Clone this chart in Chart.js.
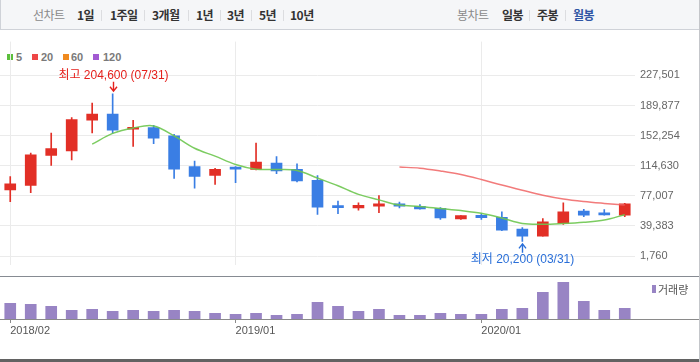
<!DOCTYPE html>
<html lang="ko">
<head>
<meta charset="utf-8">
<title>월봉 차트</title>
<script src="https://cdn.jsdelivr.net/npm/chart.js@4.4.1/dist/chart.umd.min.js"></script>
<style>
  html, body { margin: 0; padding: 0; background: #fff; }
  #wrap { position: relative; width: 700px; height: 362px; overflow: hidden; font-family: 'Noto Sans CJK KR', sans-serif; }
  .topbar { position: absolute; left: 0; top: 0; width: 698px; height: 29px; background: #f5f6f8; border: 1px solid #cfd2d8; border-top: none; }
  .tb { position: absolute; top: 7px; font-size: 12px; line-height: 16px; font-weight: bold; color: #333; letter-spacing: -0.5px; white-space: nowrap; }
  .tb.lbl { font-weight: normal; color: #8a8a8a; }
  .tb.on { color: #2f55a4; }
  .sep { position: absolute; top: 10px; width: 1px; height: 11px; background: #dcdde0; }
  .lg { position: absolute; top: 51px; font: bold 11px 'Liberation Sans', sans-serif; line-height: 12px; color: #7a7a7a; }
  .sq { position: absolute; top: 54px; width: 6px; height: 6px; }
  .line { position: absolute; left: 0; width: 700px; }
  .rborder { position: absolute; left: 699px; top: 0; width: 1px; height: 362px; background: #c4c6ca; }
  #candleBox { position: absolute; left: 0; top: 30px; width: 700px; height: 247px; }
  #volBox { position: absolute; left: 0; top: 277px; width: 700px; height: 85px; }
  .vlg { position: absolute; left: 658px; top: 282px; font-size: 11px; line-height: 14px; color: #555; }
  .vsq { position: absolute; left: 652px; top: 285px; width: 4px; height: 8px; background: #9884c4; }
</style>
</head>
<body>
<div id="wrap">
  <div class="topbar"></div>
  <span class="tb lbl" style="left:33px">선차트</span>
  <span class="tb" style="left:77px">1일</span><span class="sep" style="left:101px"></span>
  <span class="tb" style="left:110px">1주일</span><span class="sep" style="left:144px"></span>
  <span class="tb" style="left:152px">3개월</span><span class="sep" style="left:188px"></span>
  <span class="tb" style="left:196px">1년</span><span class="sep" style="left:220px"></span>
  <span class="tb" style="left:227px">3년</span><span class="sep" style="left:251px"></span>
  <span class="tb" style="left:259px">5년</span><span class="sep" style="left:283px"></span>
  <span class="tb" style="left:290px">10년</span>
  <span class="tb lbl" style="left:457px">봉차트</span>
  <span class="tb" style="left:502px">일봉</span><span class="sep" style="left:529px"></span>
  <span class="tb" style="left:537px">주봉</span><span class="sep" style="left:565px"></span>
  <span class="tb on" style="left:573px">월봉</span>

  <span class="sq" style="left:7px;background:#5cbf3c"></span><span class="lg" style="left:16px">5</span>
  <span class="sq" style="left:32px;background:#ee4646"></span><span class="lg" style="left:41px">20</span>
  <span class="sq" style="left:63px;background:#f08a1e"></span><span class="lg" style="left:71px">60</span>
  <span class="sq" style="left:93px;background:#a25ad2"></span><span class="lg" style="left:103px">120</span>

  <div id="candleBox"><canvas id="candleChart"></canvas></div>
  <div class="line" style="top:276px;height:1px;background:#868b92"></div>
  <div class="line" style="top:319px;height:1px;background:#8a8a8a"></div>
  <div id="volBox"><canvas id="volumeChart"></canvas></div>
  <span class="vsq"></span><span class="vlg">거래량</span>
  <div class="line" style="top:359px;height:3px;background:#626262"></div>
  <div class="rborder"></div>
</div>

<script>
// Monthly candles, 2018/02 .. 2020/08
const months = [
  '2018/02', '2018/03', '2018/04', '2018/05', '2018/06', '2018/07', '2018/08', '2018/09', '2018/10', '2018/11', '2018/12',
  '2019/01', '2019/02', '2019/03', '2019/04', '2019/05', '2019/06', '2019/07', '2019/08', '2019/09', '2019/10', '2019/11', '2019/12',
  '2020/01', '2020/02', '2020/03', '2020/04', '2020/05', '2020/06', '2020/07', '2020/08'
];

const opens = [84410, 90070, 127430, 133100, 171590, 179180, 160270, 162190, 152000, 113510, 102530,
  111240, 110110, 118040, 110110, 96530, 64030, 61770, 64030, 67090, 64030, 61430, 48180,
  52710, 50110, 35390, 26670, 42520, 58030, 53840, 52710];
const highs = [101050, 130490, 155400, 174650, 192760, 204600, 171250, 165250, 153930, 120300, 111240,
  113510, 142950, 125960, 116900, 102190, 70480, 68220, 77280, 69350, 65960, 62220, 52500,
  54970, 56900, 37310, 48630, 68220, 60300, 59960, 67500];
const lows = [69690, 81010, 114980, 121770, 155740, 155400, 138760, 142150, 98790, 86680, 91200,
  93470, 109320, 104790, 94260, 53840, 54630, 59160, 56100, 61770, 60400, 47500, 47500,
  47500, 33460, 20200, 26600, 41390, 50900, 53000, 50900];
const closes = [92000, 128230, 136150, 172380, 179180, 159140, 162190, 148950, 110450, 101390, 110110,
  110450, 119170, 108190, 95730, 62900, 62220, 65160, 67090, 64030, 60630, 49310, 52370,
  49770, 34250, 26670, 44440, 56900, 52710, 53160, 67090];

// moving averages
const ma5 = [null, null, null, null, 141590, 155020, 161810, 164370, 151980, 136420, 126620,
  116270, 110310, 109860, 108730, 99290, 89640, 78840, 72000, 65500, 63830, 61240, 58690,
  55220, 49270, 42470, 41500, 42410, 44000, 46780, 53500];
const ma20 = [null, null, null, null, null, null, null, null, null, null, null,
  null, null, null, null, null, null, null, null, 112960, 111600, 108100, 103750,
  97460, 90440, 83960, 77790, 73050, 69900, 67570, 65540];

const volumes = [1570000, 1470000, 1270000, 870000, 970000, 770000, 870000, 770000, 870000, 770000, 570000,
  470000, 570000, 370000, 470000, 1670000, 1270000, 770000, 970000, 370000, 370000, 570000, 470000,
  470000, 970000, 1070000, 2670000, 3670000, 1770000, 870000, 1070000];

const priceTicks = [1760, 39383, 77007, 114630, 152254, 189877, 227501];
const dateTicks = ['2018/02', '2019/01', '2020/01'];
const highDate = '07/31';
const lowDate = '03/31';

const UP = '#e22f26';
const DOWN = '#3a7ee4';
const GRID = '#ebebeb';
const candleColors = opens.map((o, i) => closes[i] >= o ? UP : DOWN);

// 최고 / 최저 markers
const extremesPlugin = {
  id: 'extremes',
  afterDatasetsDraw(chart) {
    const { ctx, scales: { x, y } } = chart;
    const hi = Math.max(...highs);
    const lo = Math.min(...lows);
    const hiIdx = highs.indexOf(hi);
    const loIdx = lows.indexOf(lo);

    ctx.save();
    ctx.font = "12px 'Liberation Sans', 'Noto Sans CJK KR', sans-serif";
    ctx.textAlign = 'center';
    ctx.textBaseline = 'middle';
    ctx.lineWidth = 1.4;

    // high
    let px = Math.round(x.getPixelForValue(hiIdx)) + 0.5;
    let py = y.getPixelForValue(hi);
    ctx.fillStyle = ctx.strokeStyle = '#e5201c';
    ctx.fillText('최고 ' + hi.toLocaleString('en-US') + ' (' + highDate + ')', px, py - 18);
    ctx.beginPath();
    ctx.moveTo(px, py - 12); ctx.lineTo(px, py - 2.5);
    ctx.moveTo(px - 3.5, py - 7); ctx.lineTo(px, py - 2.5); ctx.lineTo(px + 3.5, py - 7);
    ctx.stroke();

    // low
    px = Math.round(x.getPixelForValue(loIdx)) + 0.5;
    py = y.getPixelForValue(lo);
    ctx.fillStyle = ctx.strokeStyle = '#2a6fd8';
    ctx.fillText('최저 ' + lo.toLocaleString('en-US') + ' (' + lowDate + ')', px, py + 18);
    ctx.beginPath();
    ctx.moveTo(px, py + 11.5); ctx.lineTo(px, py + 2.5);
    ctx.moveTo(px - 3.5, py + 7); ctx.lineTo(px, py + 2.5); ctx.lineTo(px + 3.5, py + 7);
    ctx.stroke();
    ctx.restore();
  }
};

const gridForDates = c => dateTicks.includes(months[c.index]) ? GRID : 'rgba(0,0,0,0)';

new Chart(document.getElementById('candleChart'), {
  type: 'bar',
  data: {
    labels: months,
    datasets: [
      {
        type: 'line', label: '5', data: ma5, order: 0,
        borderColor: 'rgba(110, 198, 80, 0.9)', borderWidth: 1.5,
        pointRadius: 0, tension: 0.35, spanGaps: false
      },
      {
        type: 'line', label: '20', data: ma20, order: 0,
        borderColor: 'rgba(240, 100, 100, 0.85)', borderWidth: 1.5,
        pointRadius: 0, tension: 0.35, spanGaps: false
      },
      {
        label: 'body', data: opens.map((o, i) => [o, closes[i]]), order: 1,
        backgroundColor: candleColors, barThickness: 11, grouped: false, minBarLength: 2
      },
      {
        label: 'wick', data: lows.map((l, i) => [l, highs[i]]), order: 2,
        backgroundColor: candleColors, barThickness: 1, grouped: false
      }
    ]
  },
  options: {
    responsive: true,
    maintainAspectRatio: false,
    animation: false,
    layout: { padding: 0 },
    plugins: { legend: { display: false }, tooltip: { enabled: false } },
    scales: {
      x: {
        ticks: { display: false, autoSkip: false },
        grid: { offset: false, drawTicks: false, color: gridForDates },
        border: { display: false },
        afterFit: s => { s.height = 0; }
      },
      y: {
        position: 'right',
        min: -9900,
        max: 269730,
        afterBuildTicks: s => { s.ticks = priceTicks.map(v => ({ value: v })); },
        ticks: {
          padding: 5,
          color: '#666',
          font: { family: "'Liberation Sans', sans-serif", size: 11 },
          callback: v => v.toLocaleString('en-US')
        },
        grid: { color: GRID, drawTicks: false },
        border: { display: false },
        afterFit: s => { s.width = 65; }
      }
    }
  },
  plugins: [extremesPlugin]
});

new Chart(document.getElementById('volumeChart'), {
  type: 'bar',
  data: {
    labels: months,
    datasets: [{
      label: '거래량', data: volumes,
      backgroundColor: '#9884c4', barThickness: 11
    }]
  },
  options: {
    responsive: true,
    maintainAspectRatio: false,
    animation: false,
    layout: { padding: { right: 65 } },
    plugins: { legend: { display: false }, tooltip: { enabled: false } },
    scales: {
      x: {
        grid: { offset: false, drawOnChartArea: false, drawTicks: true, tickLength: 4, color: c => dateTicks.includes(months[c.index]) ? '#8a8a8a' : 'rgba(0,0,0,0)' },
        border: { display: false },
        ticks: {
          autoSkip: false, maxRotation: 0, align: 'start', padding: 1,
          color: '#555',
          font: { family: "'Liberation Sans', sans-serif", size: 11 },
          callback: (v, i) => dateTicks.includes(months[i]) ? months[i] : ''
        },
        afterFit: s => { s.height = 43; }
      },
      y: { display: false, min: 0, max: 4200000 }
    }
  }
});
</script>
</body>
</html>
